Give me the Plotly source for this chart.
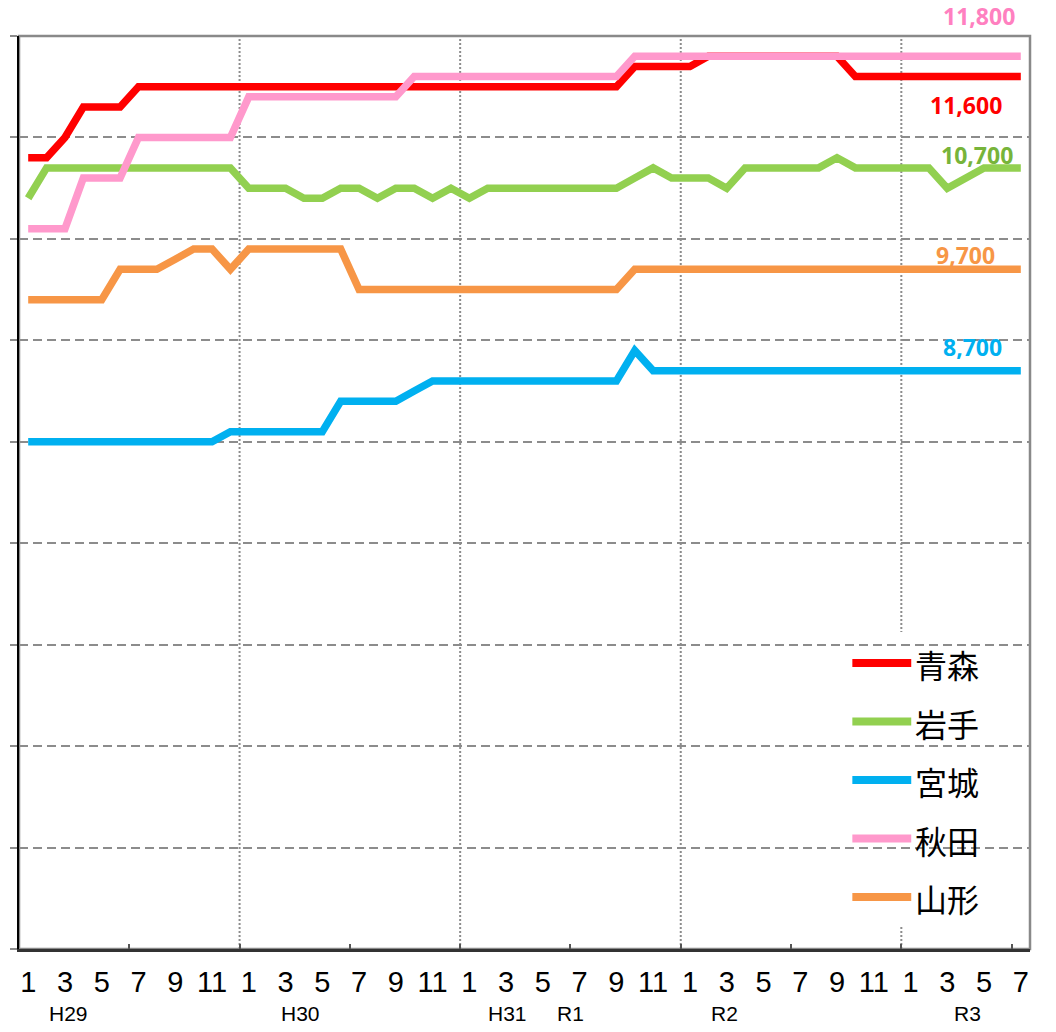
import plotly.graph_objects as go

# ---------------- data ----------------
MONTHS = [1, 2, 3, 4, 5, 6, 7, 8, 9, 10, 11, 12,
          1, 2, 3, 4, 5, 6, 7, 8, 9, 10, 11, 12,
          1, 2, 3, 4, 5, 6, 7, 8, 9, 10, 11, 12,
          1, 2, 3, 4, 5, 6, 7, 8, 9, 10, 11, 12,
          1, 2, 3, 4, 5, 6, 7]
ERAS = ["H29", "H30", "H31", "R1", "R2", "R3"]
NAMES = ["青森", "岩手", "宮城", "秋田", "山形"]

AOMORI = [10800, 10800, 11000, 11300, 11300, 11300,
          11500, 11500, 11500, 11500, 11500, 11500,
          11500, 11500, 11500, 11500, 11500, 11500,
          11500, 11500, 11500, 11500, 11500, 11500,
          11500, 11500, 11500, 11500, 11500, 11500,
          11500, 11500, 11500, 11700, 11700, 11700,
          11700, 11800, 11800, 11800, 11800, 11800,
          11800, 11800, 11800, 11600, 11600, 11600,
          11600, 11600, 11600, 11600, 11600, 11600, 11600]
IWATE = [10400, 10700, 10700, 10700, 10700, 10700,
         10700, 10700, 10700, 10700, 10700, 10700,
         10500, 10500, 10500, 10400, 10400, 10500,
         10500, 10400, 10500, 10500, 10400, 10500,
         10400, 10500, 10500, 10500, 10500, 10500,
         10500, 10500, 10500, 10600, 10700, 10600,
         10600, 10600, 10500, 10700, 10700, 10700,
         10700, 10700, 10800, 10700, 10700, 10700,
         10700, 10700, 10500, 10600, 10700, 10700, 10700]
MIYAGI = [8000, 8000, 8000, 8000, 8000, 8000,
          8000, 8000, 8000, 8000, 8000, 8100,
          8100, 8100, 8100, 8100, 8100, 8400,
          8400, 8400, 8400, 8500, 8600, 8600,
          8600, 8600, 8600, 8600, 8600, 8600,
          8600, 8600, 8600, 8900, 8700, 8700,
          8700, 8700, 8700, 8700, 8700, 8700,
          8700, 8700, 8700, 8700, 8700, 8700,
          8700, 8700, 8700, 8700, 8700, 8700, 8700]
AKITA = [10100, 10100, 10100, 10600, 10600, 10600,
         11000, 11000, 11000, 11000, 11000, 11000,
         11400, 11400, 11400, 11400, 11400, 11400,
         11400, 11400, 11400, 11600, 11600, 11600,
         11600, 11600, 11600, 11600, 11600, 11600,
         11600, 11600, 11600, 11800, 11800, 11800,
         11800, 11800, 11800, 11800, 11800, 11800,
         11800, 11800, 11800, 11800, 11800, 11800,
         11800, 11800, 11800, 11800, 11800, 11800, 11800]
YAMAGATA = [9400, 9400, 9400, 9400, 9400, 9700,
            9700, 9700, 9800, 9900, 9900, 9700,
            9900, 9900, 9900, 9900, 9900, 9900,
            9500, 9500, 9500, 9500, 9500, 9500,
            9500, 9500, 9500, 9500, 9500, 9500,
            9500, 9500, 9500, 9700, 9700, 9700,
            9700, 9700, 9700, 9700, 9700, 9700,
            9700, 9700, 9700, 9700, 9700, 9700,
            9700, 9700, 9700, 9700, 9700, 9700, 9700]

SERIES = [AOMORI, IWATE, MIYAGI, AKITA, YAMAGATA]

# ---------------- styles / layout ----------------
COLORS = ["#FF0000", "#92D050", "#00B0F0", "#FF99CC", "#F79646"]
LABEL_COLORS = ["#FF0000", "#77B43A", "#00B0F0", "#FF80C0", "#F79646"]
# value-label placement: (x in month-index units, y shift in px)
LABEL_PLACE = [(51.0, -28), (51.6, 13), (51.35, 24), (51.73, 40), (50.97, 14)]
# era label x positions (month-index units)
ERA_X = [2.2, 14.8, 26.05, 29.5, 37.9, 51.1]

W, H = 1056, 1032
M = dict(l=17, r=26, t=36, b=83)
GRID = "#8c8c8c"


def px_x(px):
    return (px - M["l"]) / (W - M["l"] - M["r"])


def px_y(py):
    return (H - M["b"] - py) / (H - M["t"] - M["b"])


xs = list(range(len(MONTHS)))

fig = go.Figure()
for name, vals, col in zip(NAMES, SERIES, COLORS):
    fig.add_trace(go.Scatter(x=xs, y=vals, mode="lines", name=name,
                             line=dict(color=col, width=7.5),
                             showlegend=False, hoverinfo="skip"))

shapes = []
# plot-area border (gray)
shapes.append(dict(type="rect", xref="paper", yref="paper", x0=0, x1=1, y0=0, y1=1,
                   line=dict(color="#898989", width=2.5), layer="between"))
# dotted year separators
for i in range(1, len(MONTHS)):
    if MONTHS[i] == 1:
        shapes.append(dict(type="line", xref="x", yref="paper", x0=i - 0.5, x1=i - 0.5,
                           y0=0, y1=1, line=dict(color=GRID, width=2, dash="2px,2px"),
                           layer="between"))
# legend box
LEG_X0, LEG_X1, LEG_Y0, LEG_Y1 = 828, 1003, 632, 925
shapes.append(dict(type="rect", xref="paper", yref="paper",
                   x0=px_x(LEG_X0), x1=px_x(LEG_X1), y0=px_y(LEG_Y1), y1=px_y(LEG_Y0),
                   fillcolor="white", line=dict(width=0), layer="between"))
annotations = []
for k, (name, col) in enumerate(zip(NAMES, COLORS)):
    ry = 663 + k * 58.5
    shapes.append(dict(type="line", xref="paper", yref="paper",
                       x0=px_x(852), x1=px_x(911), y0=px_y(ry), y1=px_y(ry),
                       line=dict(color=col, width=8), layer="above"))
    annotations.append(dict(xref="paper", yref="paper", x=px_x(913), y=px_y(ry + 1),
                            text=name, showarrow=False, xanchor="left", yanchor="middle",
                            font=dict(family="Noto Sans CJK JP", size=32, color="black")))

# end-value labels
for vals, lc, (lx, dy) in zip(SERIES, LABEL_COLORS, LABEL_PLACE):
    annotations.append(dict(xref="x", yref="y", x=lx, y=vals[-1], yshift=dy,
                            text=f"<b>{vals[-1]:,}</b>", showarrow=False,
                            xanchor="center", yanchor="middle", borderpad=0,
                            font=dict(family="Open Sans", size=23, color=lc)))

# era labels
for era, ex in zip(ERAS, ERA_X):
    annotations.append(dict(xref="x", yref="paper", x=ex, y=0, yshift=-64,
                            text=era, showarrow=False, xanchor="center", yanchor="middle",
                            font=dict(family="Liberation Sans", size=21, color="black")))

tick_idx = [i for i in xs if MONTHS[i] % 2 == 1]
minor_idx = [i - 0.5 for i in xs if i > 0 and MONTHS[i] in (1, 7)] + [len(MONTHS) - 1.5]
fig.update_layout(
    width=W, height=H, margin=M,
    paper_bgcolor="white", plot_bgcolor="white",
    showlegend=False,
    shapes=shapes, annotations=annotations,
    xaxis=dict(range=[-0.5, len(MONTHS) - 0.5], tickmode="array",
               tickvals=tick_idx, ticktext=[str(MONTHS[i]) for i in tick_idx],
               ticks="", showgrid=False, zeroline=False,
               showline=True, linecolor="#333333", linewidth=2.5,
               ticklabelstandoff=5,
               tickfont=dict(family="Liberation Sans", size=29, color="black"),
               minor=dict(tickmode="array", tickvals=minor_idx,
                          ticks="inside", ticklen=5, tickcolor="#555555", tickwidth=1.5,
                          showgrid=False)),
    yaxis=dict(range=[3000, 12000], dtick=1000, tick0=3000,
               showticklabels=False, ticks="outside", ticklen=7,
               tickcolor=GRID, tickwidth=1.5,
               showgrid=True, gridcolor=GRID, gridwidth=2, griddash="9px,5px",
               zeroline=False, showline=True, linecolor="black", linewidth=2),
)

fig.write_html("out.html", config={"displayModeBar": False},
               post_script="document.body.style.margin='0';document.body.style.overflow='hidden';")
